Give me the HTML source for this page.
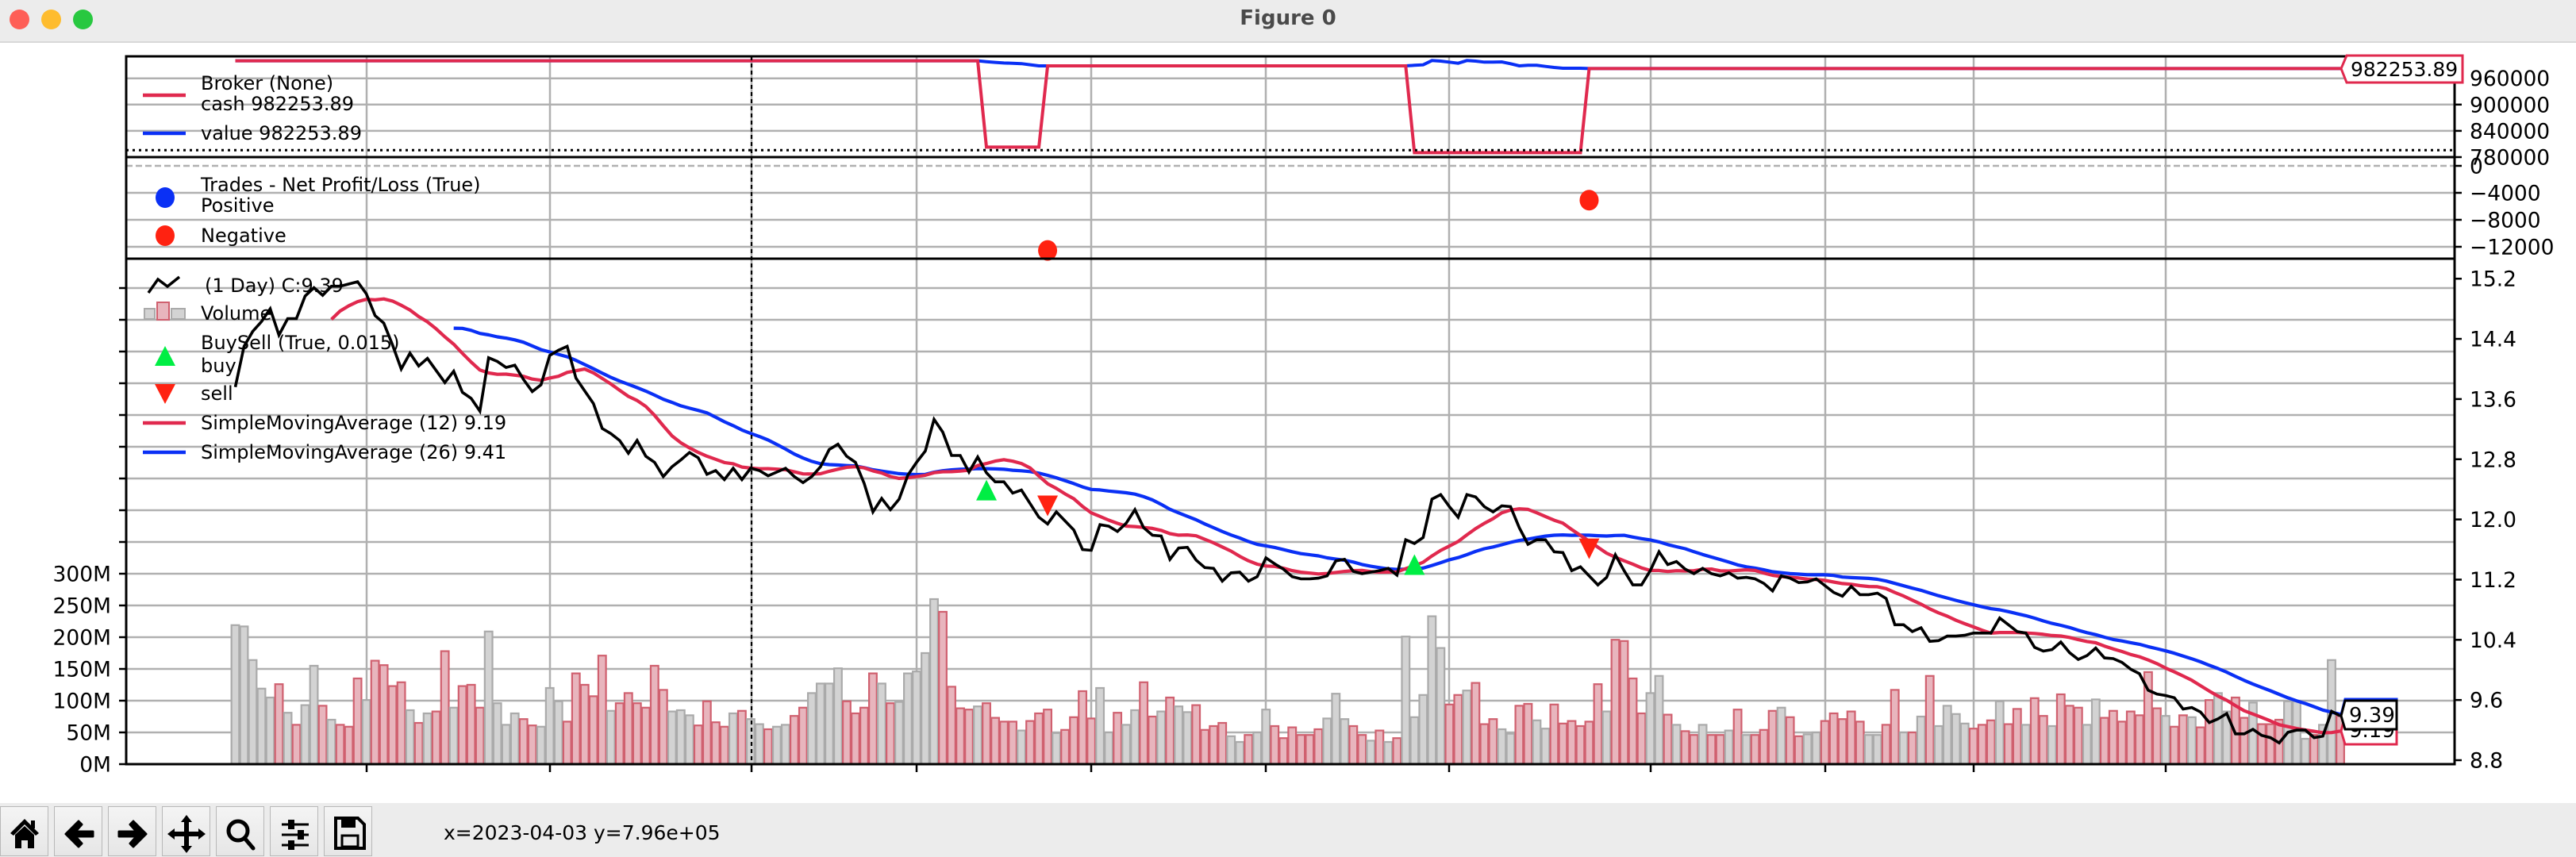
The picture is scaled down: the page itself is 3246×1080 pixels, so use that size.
<!DOCTYPE html>
<html><head><meta charset="utf-8">
<style>
html,body{margin:0;padding:0;background:#fff;}
body{width:3246px;height:1080px;position:relative;overflow:hidden;font-family:"DejaVu Sans","Liberation Sans",sans-serif;}
#titlebar{position:absolute;left:0;top:0;width:3246px;height:52px;background:#ececec;border-bottom:2px solid #d8d8d8;}
.light{position:absolute;top:12px;width:25px;height:25px;border-radius:50%;}
#title{position:absolute;left:0;width:3246px;top:8px;text-align:center;font-size:26px;font-weight:bold;color:#4a4a4a;}
#toolbar{position:absolute;left:0;top:1012px;width:3246px;height:68px;background:#ececec;}
.btn{position:absolute;top:4px;width:61px;height:63px;background:linear-gradient(#f4f4f4,#e6e6e6);border:1px solid #b8b8b8;box-sizing:border-box;}
.btn svg{position:absolute;left:0;top:0;}
#coords{position:absolute;left:559px;top:1035px;font-size:25px;color:#000;}
#chart{position:absolute;left:0;top:0;}
</style></head>
<body>
<div id="titlebar">
  <div class="light" style="left:12px;background:#fe5f57"></div>
  <div class="light" style="left:52px;background:#febc2e"></div>
  <div class="light" style="left:92px;background:#28c840"></div>
  <div id="title">Figure 0</div>
</div>

<svg id="chart" width="3246" height="1080" xmlns="http://www.w3.org/2000/svg" style="top:0">
<g id="grid"></g><g id="marks"></g><g id="axes"></g><g id="legend"></g>
</svg>

<div id="toolbar">
  <div class="btn" style="left:0px"><svg width="61" height="63"><path d="M30 15 L12 33 L16 36 L30 22 L44 36 L48 33 Z" fill="#000"/><path d="M18 35 L30 24 L42 35 L42 52 L34 52 L34 42 L26 42 L26 52 L18 52 Z" fill="#000"/><rect x="38" y="17" width="5" height="10" fill="#000"/></svg></div>
  <div class="btn" style="left:68px"><svg width="61" height="63"><path d="M14 34 L30 18 L34 22 L26 31 L48 31 L48 37 L26 37 L34 46 L30 50 Z" fill="#000" stroke="#000" stroke-width="3" stroke-linejoin="round"/></svg></div>
  <div class="btn" style="left:136px"><svg width="61" height="63"><path d="M47 34 L31 18 L27 22 L35 31 L13 31 L13 37 L35 37 L27 46 L31 50 Z" fill="#000" stroke="#000" stroke-width="3" stroke-linejoin="round"/></svg></div>
  <div class="btn" style="left:204px"><svg width="61" height="63"><path d="M30 10 L37 19 L33 19 L33 31 L45 31 L45 27 L54 34 L45 41 L45 37 L33 37 L33 49 L37 49 L30 58 L23 49 L27 49 L27 37 L15 37 L15 41 L6 34 L15 27 L15 31 L27 31 L27 19 L23 19 Z" fill="#000"/></svg></div>
  <div class="btn" style="left:272px"><svg width="61" height="63"><circle cx="27" cy="30" r="12" fill="none" stroke="#000" stroke-width="5"/><line x1="35" y1="39" x2="46" y2="52" stroke="#000" stroke-width="5" stroke-linecap="round"/></svg></div>
  <div class="btn" style="left:340px"><svg width="61" height="63"><g stroke="#000" stroke-width="3"><line x1="14" y1="22" x2="48" y2="22"/><line x1="14" y1="35" x2="48" y2="35"/><line x1="14" y1="48" x2="48" y2="48"/></g><rect x="22" y="16" width="8" height="12" fill="#000"/><rect x="34" y="29" width="8" height="12" fill="#000"/><rect x="22" y="42" width="8" height="12" fill="#000"/></svg></div>
  <div class="btn" style="left:408px"><svg width="61" height="63"><path d="M14 14 L42 14 L50 22 L50 52 L14 52 Z" fill="none" stroke="#000" stroke-width="4"/><rect x="21" y="14" width="18" height="12" fill="#000"/><rect x="22" y="36" width="20" height="14" fill="none" stroke="#000" stroke-width="3"/></svg></div>
</div>
<div id="coords">x=2023-04-03 y=7.96e+05</div>

<script>
// ---- data ----
const closes = [13.76,14.30,14.50,14.63,14.80,14.45,14.67,14.67,14.97,15.08,14.98,15.10,15.10,15.13,15.16,15.0,14.71,14.61,14.32,14.0,14.21,14.04,14.14,13.98,13.82,13.97,13.69,13.61,13.44,14.15,14.1,14.02,14.05,13.86,13.70,13.79,14.18,14.25,14.30,13.88,13.71,13.54,13.21,13.14,13.05,12.88,13.05,12.84,12.76,12.57,12.70,12.79,12.89,12.82,12.60,12.65,12.53,12.68,12.53,12.68,12.65,12.58,12.63,12.68,
12.57,12.49,12.57,12.70,12.93,13.0,12.84,12.76,12.48,12.10,12.28,12.13,12.27,12.59,12.76,12.91,13.33,13.16,12.85,12.85,12.63,12.83,12.62,12.50,12.50,12.35,12.39,12.21,12.03,11.94,12.10,11.98,11.86,11.60,11.59,11.93,11.91,11.84,11.95,12.13,11.89,11.79,11.78,11.47,11.62,11.63,11.46,11.36,11.35,11.18,11.29,11.30,11.18,11.24,11.49,11.41,11.34,11.24,11.21,11.21,11.22,11.25,11.45,11.47,11.31,
11.28,11.30,11.32,11.35,11.26,11.73,11.68,11.76,12.27,12.33,12.17,12.03,12.33,12.30,12.17,12.10,12.18,12.17,11.89,11.67,11.73,11.73,11.57,11.56,11.32,11.37,11.25,11.13,11.23,11.53,11.32,11.13,11.13,11.32,11.57,11.40,11.44,11.34,11.28,11.35,11.28,11.25,11.29,11.22,11.23,11.21,11.15,11.05,11.25,11.22,11.16,11.17,11.21,11.12,11.03,10.98,11.11,11.0,11.0,11.02,10.95,10.60,10.60,10.51,10.56,10.38,
10.39,10.45,10.45,10.46,10.49,10.49,10.49,10.69,10.60,10.51,10.49,10.30,10.25,10.27,10.37,10.23,10.14,10.19,10.29,10.16,10.15,10.10,10.01,9.95,9.73,9.68,9.66,9.63,9.48,9.50,9.44,9.30,9.35,9.42,9.15,9.15,9.21,9.13,9.10,9.03,9.17,9.20,9.20,9.10,9.12,9.45,9.39];
const volumesM = [219,217,164,119,105,126,81,62,93,155,92,70,62,59,135,101,163,156,123,129,85,65,80,83,178,89,123,125,89,209,96,62,80,71,61,59,120,99,67,143,125,107,171,84,96,112,96,89,155,117,83,85,77,61,99,66,59,80,84,71,63,55,59,62,76,
89,112,127,127,151,99,80,89,143,127,96,98,143,146,175,260,240,122,88,86,91,96,73,67,67,53,68,80,86,49,54,74,115,72,120,50,81,62,85,129,75,83,105,91,82,93,54,60,65,44,35,46,50,86,60,41,58,46,46,55,72,111,71,60,46,
37,53,35,41,201,74,109,233,183,94,109,116,128,63,71,55,48,92,95,69,56,94,64,68,60,67,126,83,196,194,135,80,112,139,78,62,52,46,62,46,46,53,86,46,46,54,84,89,74,44,47,50,68,80,71,83,67,46,46,62,117,50,50,75,139,
60,92,79,64,56,62,69,99,63,87,62,104,76,60,110,92,89,62,102,73,84,67,83,77,145,88,76,59,77,74,58,101,112,83,105,73,97,63,63,70,99,99,40,46,62,164,76];
const volumeDirection = "gggggrgrggrgrrrgrrrrgrgrrgrrrggggrrgggrrrrrgrrrrrrgggrrrrgrggrggr" +
 "rggggrrrrgrgggggrrrrgrrrrgrrrgrrrrggrggrrgrggrrrrggrggrrrrrrgggrr" +
 "grgrgggggrrgrrrggrrggrrrrrrgrrrrggrgrrgrrgrgrrrgrrggrrrrrggrrgrgr" +
 "ggggrrrgrrgrrgrrrggrrrrrrrgrrgrrggrrgrrrgggrggr";
const cashRunValues = [1000000, 802800, 988460, 790100, 982253.89];
const cashRunLengths = [86, 7, 42, 20, 87];
const valueTrade1Start = 86;
const valueTrade1 = [998000,996500,995000,994500,993500,991000,988460];
const valueTrade2Start = 135;
const valueTrade2 = [989670,990880,1000540,999330,996920,994500,1000540,999330,996920,996920,997520,993290,988460,989670,989670,987250,984840,983020,983020,983020];
const buyIdx = [86, 135];
const buyPrice = [12.39, 11.40];
const sellIdx = [93, 155];
const sellPrice = [12.18, 11.61];
const tradeIdx = [93, 155];
const tradePL = [-12550, -5090];
const priceTicks = [15.2,14.4,13.6,12.8,12.0,11.2,10.4,9.6,8.8];
const volumeTicksM = [0,50,100,150,200,250,300];
const cashTicks = [960000,900000,840000,780000];
const plTicks = [0,-4000,-8000,-12000];
const xGridPx = [462,693,947,1155,1375,1595,1826,2080,2300,2487,2729];

// ---- geometry ----
const NS="http://www.w3.org/2000/svg";
const L=159, R=3093;
const N=closes.length;
const step=(2949-296.5)/(N-1);
function xOf(i){return 296.5+i*step;}
function yCash(v){return 98.7+(960000-v)/60000*33.1;}
function yPL(v){return 209-v/4000*34;}
function yP(p){return 958-(p-8.8)*94.81;}
function yV(m){return 963-m*0.8;}
function mk(tag,attrs,parent){const e=document.createElementNS(NS,tag);for(const k in attrs)e.setAttribute(k,attrs[k]);parent.appendChild(e);return e;}
const G=document.getElementById('grid'),M=document.getElementById('marks'),A=document.getElementById('axes'),LG=document.getElementById('legend');
const GC="#b0b0b0";
let el;

// horizontal gridlines
cashTicks.slice(0,3).forEach(v=>{el=mk('line',{x1:L,x2:R,y1:yCash(v),y2:yCash(v),stroke:GC,'stroke-width':2.5},G);

});
plTicks.slice(1).forEach(v=>{el=mk('line',{x1:L,x2:R,y1:yPL(v),y2:yPL(v),stroke:GC,'stroke-width':2.5},G);

});
el=mk('line',{x1:L,x2:R,y1:yPL(0),y2:yPL(0),stroke:GC,'stroke-width':2.5,'stroke-dasharray':'8,4'},G);


for(let k=1;k<=15;k++){const y=yV(k*50);el=mk('line',{x1:L,x2:R,y1:y,y2:y,stroke:GC,'stroke-width':2.5},G);

}
xGridPx.forEach(x=>{[[71,198],[198,326],[326,963]].forEach(s=>{el=mk('line',{x1:x,x2:x,y1:s[0],y2:s[1],stroke:GC,'stroke-width':2.5},G);

});});

// volume bars
const bw=step*0.88;
volumesM.forEach((v,i)=>{const up=volumeDirection[i]==='g';
el=mk('rect',{x:xOf(i)-bw/2,y:yV(v),width:bw,height:963-yV(v),fill:up?'#d3d3d3':'#e8b5bd',stroke:up?'#aaaaaa':'#d0606f','stroke-width':2.2},M);

});

// SMA helper
function sma(n){const out=[];for(let i=n-1;i<N;i++){let s=0;for(let j=i-n+1;j<=i;j++)s+=closes[j];out.push([i,s/n]);}return out;}
function path(pts,yf){return pts.map((p,k)=>(k?'L':'M')+xOf(p[0]).toFixed(1)+' '+yf(p[1]).toFixed(1)).join(' ');}
const sma26=sma(26), sma12=sma(12);
el=mk('path',{d:path(sma26,yP),fill:'none',stroke:'#0a30f5','stroke-width':4.2,'stroke-linejoin':'round'},M);


el=mk('path',{d:path(sma12,yP),fill:'none',stroke:'#e0294e','stroke-width':4.2,'stroke-linejoin':'round'},M);


el=mk('path',{d:path(closes.map((c,i)=>[i,c]),yP),fill:'none',stroke:'#000','stroke-width':3.6,'stroke-linejoin':'miter'},M);



// buy / sell markers
buyIdx.forEach((i,k)=>{const x=xOf(i),y=yP(buyPrice[k]);
el=mk('polygon',{points:`${x-13},${y+13} ${x+13},${y+13} ${x},${y-13}`,fill:'#00ee44'},M);

});
sellIdx.forEach((i,k)=>{const x=xOf(i),y=yP(sellPrice[k]);
el=mk('polygon',{points:`${x-13},${y-13} ${x+13},${y-13} ${x},${y+13}`,fill:'#ff2211'},M);

});

// broker cash / value
const cash=[];cashRunValues.forEach((v,k)=>{for(let j=0;j<cashRunLengths[k];j++)cash.push(v);});
const value=cash.slice();
valueTrade1.forEach((v,k)=>{value[valueTrade1Start+k]=v;});
valueTrade2.forEach((v,k)=>{value[valueTrade2Start+k]=v;});
const cN=Math.min(cash.length,N);
el=mk('path',{d:path(value.slice(0,cN).map((v,i)=>[i,v]),yCash),fill:'none',stroke:'#0a30f5','stroke-width':4},M);


el=mk('path',{d:path(cash.slice(0,cN).map((v,i)=>[i,v]),yCash),fill:'none',stroke:'#e0294e','stroke-width':4},M);



// trade PL dots
tradeIdx.forEach((i,k)=>{el=mk('ellipse',{cx:xOf(i),cy:yPL(tradePL[k]),rx:12,ry:13,fill:'#ff2211'},M);

});

// crosshair
el=mk('line',{x1:947,x2:947,y1:71,y2:963,stroke:'#000','stroke-width':2.2,'stroke-dasharray':'5,4'},A);


el=mk('line',{x1:L,x2:R,y1:189.3,y2:189.3,stroke:'#000','stroke-width':3,'stroke-dasharray':'3,5'},A);



// spines
[[71,198],[198,326],[326,963]].forEach(s=>{el=mk('rect',{x:L,y:s[0],width:R-L,height:s[1]-s[0],fill:'none',stroke:'#000','stroke-width':3},A);

});

// ticks and labels
function rtick(y,label,name){el=mk('line',{x1:R,x2:R+9,y1:y,y2:y,stroke:'#000','stroke-width':2.5},A);


el=mk('text',{x:3112,y:y+9.5,'font-size':26.5,fill:'#000','font-family':'DejaVu Sans, Liberation Sans, sans-serif'},A);el.textContent=label;

}
cashTicks.forEach(v=>rtick(yCash(v),String(v),'cash-axis'));
plTicks.forEach(v=>rtick(yPL(v),v<0?'\u2212'+(-v):String(v),'pl-axis'));
priceTicks.forEach(v=>rtick(yP(v),v.toFixed(1),'price-axis'));
for(let k=0;k<=15;k++){const y=yV(k*50);el=mk('line',{x1:L-9,x2:L,y1:y,y2:y,stroke:'#000','stroke-width':2.5},A);

}
volumeTicksM.forEach(v=>{el=mk('text',{x:140,y:yV(v)+9.5,'text-anchor':'end','font-size':26.5,'font-family':'DejaVu Sans, Liberation Sans, sans-serif'},A);el.textContent=v+'M';

});
xGridPx.forEach(x=>{el=mk('line',{x1:x,x2:x,y1:963,y2:973,stroke:'#000','stroke-width':2.5},A);

});

// last value tags
function tag(yTip,y0,y1,color,txt,name){el=mk('path',{d:`M2950 ${yTip} L2957 ${y0} L3103 ${y0} L3103 ${y1} L2957 ${y1} Z`,fill:'#fff',stroke:color,'stroke-width':3},A);


el=mk('text',{x:2962,y:(y0+y1)/2+9,'font-size':25,'font-family':'DejaVu Sans, Liberation Sans, sans-serif'},A);el.textContent=txt;

}
tag(yCash(cash[cN-1]),70,104,'#e0294e',cash[cN-1].toFixed(2),'cash-last-value');
function ptag(p,y0,color,name){const yt=yP(p);el=mk('path',{d:`M2950 ${yt} L2955 ${y0} L3020 ${y0} L3020 ${y0+36} L2955 ${y0+36} Z`,fill:'#fff',stroke:color,'stroke-width':3},A);


el=mk('text',{x:2960,y:y0+27,'font-size':26,'font-family':'DejaVu Sans, Liberation Sans, sans-serif'},A);el.textContent=p.toFixed(2);

}
ptag(sma12[sma12.length-1][1],902,'#e0294e','sma12-last-value');
ptag(sma26[sma26.length-1][1],881,'#0a30f5','sma26-last-value');
ptag(closes[N-1],883,'#000','close-last-value');

// legends
const F='DejaVu Sans, Liberation Sans, sans-serif';
function ltext(x,y,t,name){el=mk('text',{x:x,y:y+8,'font-size':24,'font-family':F},LG);el.textContent=t;

}
function lline(y,color,name){el=mk('line',{x1:180,x2:234,y1:y,y2:y,stroke:color,'stroke-width':4.5},LG);

}
lline(120,'#e0294e','legend-cash-swatch');
ltext(253,105,'Broker (None)','legend-broker');
ltext(253,131,'cash 982253.89','legend-cash');
lline(168,'#0a30f5','legend-value-swatch');
ltext(253,168,'value 982253.89','legend-value');
el=mk('ellipse',{cx:208,cy:249,rx:12,ry:13,fill:'#0a30f5'},LG);


el=mk('ellipse',{cx:208,cy:297,rx:12,ry:13,fill:'#ff2211'},LG);


ltext(253,233,'Trades - Net Profit/Loss (True)','legend-trades');
ltext(253,259,'Positive','legend-positive');
ltext(253,297,'Negative','legend-negative');
el=mk('polyline',{points:'187,369 199,352 211,361 226,349',fill:'none',stroke:'#000','stroke-width':3.5},LG);


ltext(258,360,' (1 Day) C:9.39','legend-price');
el=mk('rect',{x:182,y:389,width:13,height:13,fill:'#d3d3d3',stroke:'#aaa','stroke-width':2},LG);


el=mk('rect',{x:216,y:389,width:17,height:13,fill:'#d3d3d3',stroke:'#aaa','stroke-width':2},LG);


el=mk('rect',{x:198,y:381,width:15,height:22,fill:'#e8b5bd',stroke:'#d0606f','stroke-width':2},LG);


ltext(253,395,'Volume','legend-volume');
ltext(253,432,'BuySell (True, 0.015)','legend-buysell');
el=mk('polygon',{points:'195,461 221,461 208,436',fill:'#00ee44'},LG);


ltext(253,461,'buy','legend-buy');
el=mk('polygon',{points:'195,484 221,484 208,509',fill:'#ff2211'},LG);


ltext(253,496,'sell','legend-sell');
lline(533,'#e0294e','legend-sma12-swatch');
ltext(253,533,'SimpleMovingAverage (12) 9.19','legend-sma12');
lline(570,'#0a30f5','legend-sma26-swatch');
ltext(253,570,'SimpleMovingAverage (26) 9.41','legend-sma26');
</script>
</body></html>
